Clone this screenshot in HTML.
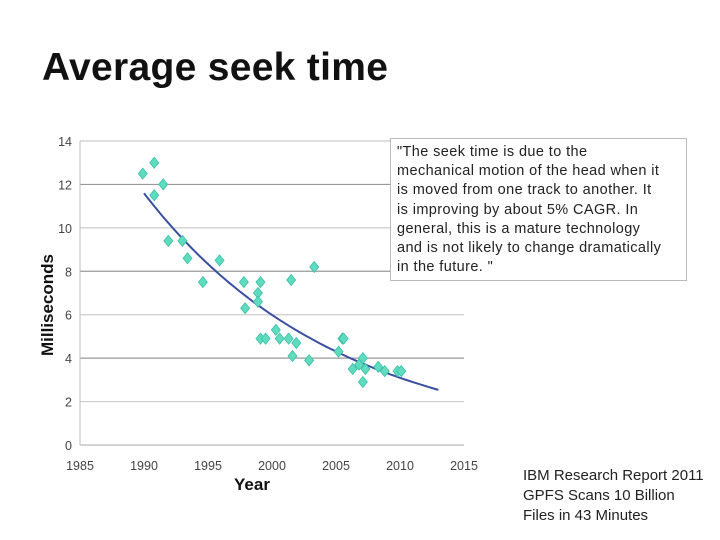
<!DOCTYPE html>
<html><head><meta charset="utf-8"><style>
body{margin:0;width:720px;height:540px;background:#fff;overflow:hidden;font-family:"Liberation Sans",sans-serif;position:relative}
#title{position:absolute;left:42px;top:46px;font-size:39px;font-weight:bold;color:#111;margin:0;letter-spacing:0.3px}
#quote{position:absolute;left:390px;top:138px;width:281px;height:137px;border:1px solid #bbb;padding:4px 8px 0 6px;font-size:14.5px;line-height:19.2px;color:#222;background:#fff;white-space:nowrap;letter-spacing:0.4px}
#src{position:absolute;left:523px;top:466px;font-size:15px;line-height:19.8px;color:#222}
</style></head><body>
<h1 id="title">Average seek time</h1>
<svg id="chart" width="720" height="540" style="position:absolute;left:0;top:0"></svg>
<div id="quote">"The seek time is due to the<br>mechanical motion of the head when it<br>is moved from one track to another. It<br>is improving by about 5% CAGR. In<br>general, this is a mature technology<br>and is not likely to change dramatically<br>in the future. "</div>
<div id="src">IBM Research Report 2011<br>GPFS Scans 10 Billion<br>Files in 43 Minutes</div>
<script>
const years=[1989.9,1990.8,1990.8,1991.5,1991.9,1993.0,1993.4,1994.6,1995.9,1997.8,1997.9,1998.9,1998.9,1999.1,1999.1,1999.5,2000.3,2000.6,2001.3,2001.5,2001.6,2001.9,2002.9,2003.3,2005.2,2005.5,2005.6,2006.3,2006.8,2007.1,2007.1,2007.3,2008.3,2008.8,2009.8,2010.1];
const seekMs=[12.5,13.0,11.5,12.0,9.4,9.4,8.6,7.5,8.5,7.5,6.3,7.0,6.6,7.5,4.9,4.9,5.3,4.9,4.9,7.6,4.1,4.7,3.9,8.2,4.3,4.9,4.9,3.5,3.7,4.0,2.9,3.5,3.6,3.4,3.4,3.4];
const xTicks=[1985,1990,1995,2000,2005,2010,2015];
const yTicks=[0,2,4,6,8,10,12,14];
const trendRange=[1990,2013];
const NS="http://www.w3.org/2000/svg";
const svg=document.getElementById('chart');
const X=v=>80+(v-1985)*(384/30);
const Y=v=>445-v*(304/14);
function mk(t,a){const e=document.createElementNS(NS,t);for(const k in a)e.setAttribute(k,a[k]);svg.appendChild(e);return e;}
yTicks.forEach(t=>{
  const g=mk('line',{x1:80,x2:464,y1:Y(t),y2:Y(t),stroke:t===0?'#bbb':(t%4===0?'#999':'#ccc'),'stroke-width':1.2});
  
  
  const l=mk('text',{x:72,y:Y(t)+5,'text-anchor':'end','font-size':12.5,fill:'#444','font-family':'Liberation Sans, sans-serif'});
  l.textContent=t;
  
  
});
const ax=mk('line',{x1:80,x2:80,y1:Y(14),y2:Y(0),stroke:'#bbb'});


xTicks.forEach(t=>{
  const l=mk('text',{x:X(t),y:470,'text-anchor':'middle','font-size':12.5,fill:'#444','font-family':'Liberation Sans, sans-serif'});
  l.textContent=t;
  
  
});
const xt=mk('text',{x:252,y:490,'text-anchor':'middle','font-size':17,'font-weight':'bold',fill:'#111','font-family':'Liberation Sans, sans-serif'});
xt.textContent='Year';


const yt=mk('text',{x:0,y:0,'text-anchor':'middle','font-size':17,'font-weight':'bold',fill:'#111','font-family':'Liberation Sans, sans-serif',transform:'translate(53,305) rotate(-90)'});
yt.textContent='Milliseconds';


let n=years.length,sx=0,sy=0,sxx=0,sxy=0;
for(let i=0;i<n;i++){const x=years[i]-1990,y=Math.log(seekMs[i]);sx+=x;sy+=y;sxx+=x*x;sxy+=x*y;}
const b=(n*sxy-sx*sy)/(n*sxx-sx*sx),a=(sy-b*sx)/n;
let d='';
for(let t=trendRange[0];t<=trendRange[1]+1e-9;t+=0.25){d+=(d?'L':'M')+X(t).toFixed(1)+','+Y(Math.exp(a+b*(t-1990))).toFixed(1);}
const tr=mk('path',{d:d,fill:'none',stroke:'#3a4fa0','stroke-width':2});


years.forEach((yr,i)=>{
  const cx=X(yr),cy=Y(seekMs[i]);
  const p=mk('polygon',{points:`${cx},${cy-5.5} ${cx+4.5},${cy} ${cx},${cy+5.5} ${cx-4.5},${cy}`,fill:'#5fdcc0',stroke:'#3bbfa5','stroke-width':0.8});
  
  
});
</script>
</body></html>
